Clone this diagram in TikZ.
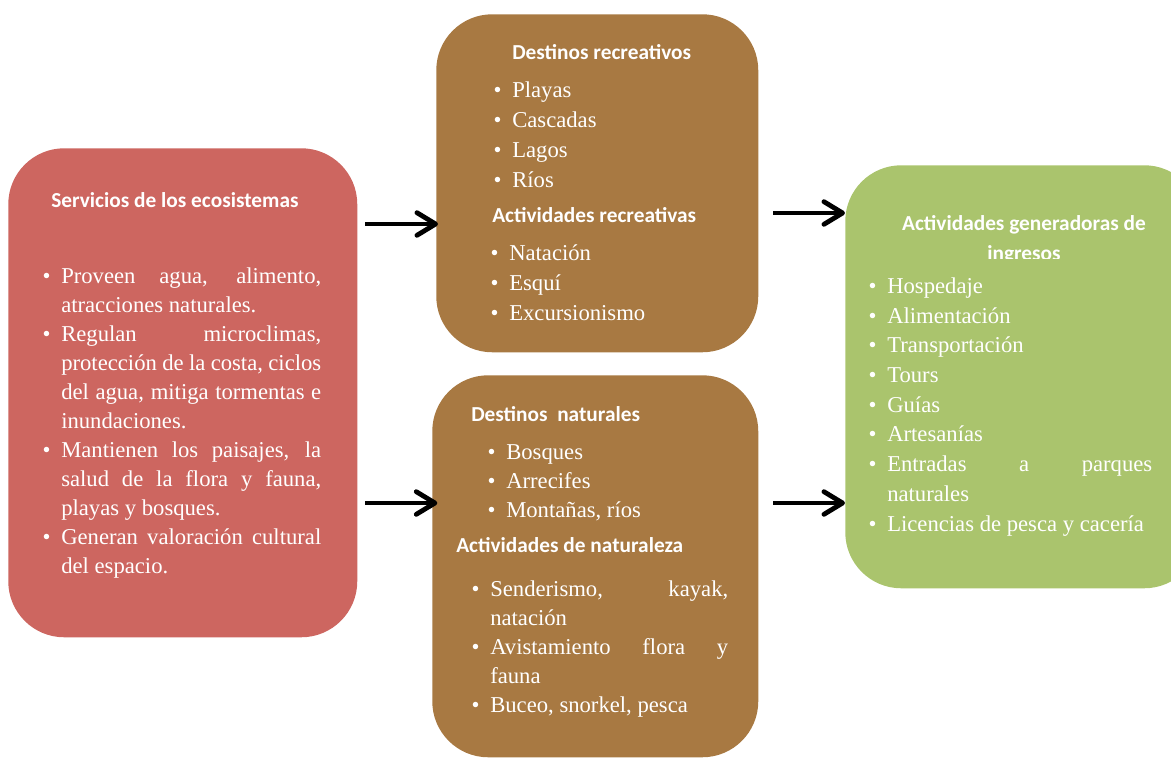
\documentclass[tikz,border=0pt]{standalone}
\usepackage{fontspec}
\setmainfont{Liberation Serif}
\newfontfamily\hfam{Carlito}
\usetikzlibrary{arrows.meta}
\definecolor{cred}{RGB}{205,102,96}
\definecolor{cbrown}{RGB}{168,121,66}
\definecolor{cgreen}{RGB}{170,196,109}
\newlength\bw
\newcommand\jl[1]{\makebox[\bw][s]{#1}}
\newcommand\bu{\llap{\textbullet\hspace{8pt}}}
\newcommand\bfnt{\fontsize{17}{21.9}\selectfont}
\newcommand\hfnt{\hfam\bfseries\fontsize{16}{20}\selectfont}
\tikzset{
  box/.style={rectangle, rounded corners=42pt, draw=none, anchor=north west, inner sep=0pt},
  hd/.style={anchor=base west, inner sep=0pt, text=white, font=\hfnt},
  tx/.style={anchor=base west, inner sep=0pt, text=white, font=\bfnt},
  arr/.style={line width=3pt, -{Straight Barb[length=14pt,width=17pt,line width=3.6pt,round]}}
}
\begin{document}
\begin{tikzpicture}[x=0.75pt,y=-0.75pt]
\useasboundingbox (0,0) rectangle (1171,758);
\clip (0,0) rectangle (1171,758);
% boxes
\node[box, fill=cred, minimum width=261.75pt, minimum height=366.75pt] (eco) at (8,148) {};
\node[box, fill=cbrown, minimum width=241.5pt, minimum height=253.5pt] (rec) at (436,14) {};
\node[box, fill=cbrown, minimum width=244.5pt, minimum height=286.5pt] (nat) at (432,375) {};
\node[box, fill=cgreen, minimum width=266.25pt, minimum height=317.25pt] (inc) at (845,165) {};
% left box text
\node[hd] (ecoH) at (51,207) {Servicios de los ecosistemas};
\setlength\bw{195pt}
\node[tx] (ecoT) at (61,283) {\vtop{\baselineskip=21.75pt
  \hbox{\bu\jl{Proveen agua, alimento,}}
  \hbox{atracciones naturales.}
  \hbox{\bu\jl{Regulan microclimas,}}
  \hbox{\jl{protección de la costa, ciclos}}
  \hbox{\jl{del agua, mitiga tormentas e}}
  \hbox{inundaciones.}
  \hbox{\bu\jl{Mantienen los paisajes, la}}
  \hbox{\jl{salud de la flora y fauna,}}
  \hbox{playas y bosques.}
  \hbox{\bu\jl{Generan valoración cultural}}
  \hbox{del espacio.}}};
% top brown text
\node[hd] (recH1) at (512,59) {Destinos recreativos};
\node[tx] (recL1) at (512,97) {\vtop{\baselineskip=22.5pt
  \hbox{\bu Playas}
  \hbox{\bu Cascadas}
  \hbox{\bu Lagos}
  \hbox{\bu Ríos}}};
\node[hd] (recH2) at (492,222.7) {Actividades recreativas};
\node[tx] (recL2) at (509,260) {\vtop{\baselineskip=22.5pt
  \hbox{\bu Natación}
  \hbox{\bu Esquí}
  \hbox{\bu Excursionismo}}};
% bottom brown text
\node[hd] (natH1) at (471,421.7) {Destinos\ \ naturales};
\node[tx] (natL1) at (506,459.3) {\vtop{\baselineskip=21.9pt
  \hbox{\bu Bosques}
  \hbox{\bu Arrecifes}
  \hbox{\bu Montañas, ríos}}};
\node[hd] (natH2) at (456,552.7) {Actividades de naturaleza};
\setlength\bw{178.5pt}
\node[tx] (natL2) at (490,596.7) {\vtop{\baselineskip=21.8pt
  \hbox{\bu\jl{Senderismo, kayak,}}
  \hbox{natación}
  \hbox{\bu\jl{Avistamiento flora y}}
  \hbox{fauna}
  \hbox{\bu Buceo, snorkel, pesca}}};
% green text
\node[hd, anchor=base] (incH1) at (1024,230.7) {Actividades generadoras de};
\begin{scope}
  \clip (845,235) rectangle (1171,258);
  \node[hd, anchor=base] (incH2) at (1024,260) {ingresos};
\end{scope}
\setlength\bw{198.75pt}
\node[tx] (incL) at (887,293.3) {\vtop{\baselineskip=22.3pt
  \hbox{\bu Hospedaje}
  \hbox{\bu Alimentación}
  \hbox{\bu Transportación}
  \hbox{\bu Tours}
  \hbox{\bu Guías}
  \hbox{\bu Artesanías}
  \hbox{\bu\jl{Entradas a parques}}
  \hbox{naturales}
  \hbox{\bu Licencias de pesca y cacería}}};
% arrows
\coordinate (a1) at (365,224);
\coordinate (a2) at (365,503);
\coordinate (a3) at (773,213);
\coordinate (a4) at (773,503);
\draw[arr] (a1) -- ([xshift=1.5pt]rec.west |- a1);
\draw[arr] (a2) -- ([xshift=4pt]nat.west |- a2);
\draw[arr] (a3) -- (inc.west |- a3);
\draw[arr] (a4) -- (inc.west |- a4);
\end{tikzpicture}
\end{document}
